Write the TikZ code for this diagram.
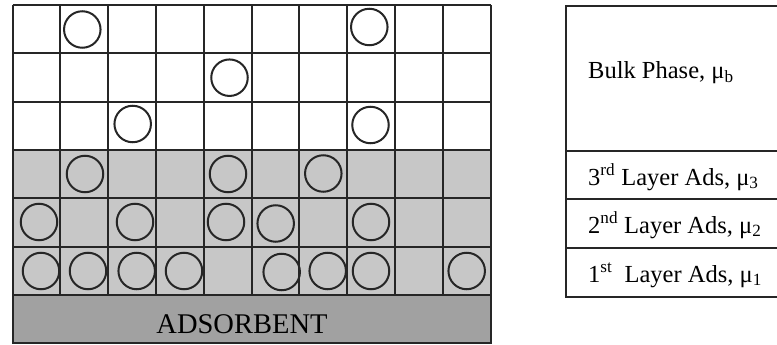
\documentclass[tikz,border=0pt]{standalone}
\usepackage{fontspec}
\setmainfont{Liberation Serif}
\begin{document}
\begin{tikzpicture}[x=1pt,y=-1pt,
  gridline/.style={line width=2pt, draw=black!85},
  molecule/.style={circle, draw=black!85, line width=2pt, minimum size=36.5pt, inner sep=0pt},
  tabtext/.style={anchor=base west, inner sep=0pt, font=\fontsize{24.5}{28}\selectfont},
  adstext/.style={anchor=base, inner sep=0pt, font=\fontsize{28.5}{32}\selectfont}]
\useasboundingbox (0,0) rectangle (777,345);
% shaded adsorbed layers and adsorbent
\fill[black!22] (12.5,150) rectangle (490.5,295);
\fill[black!37] (12.5,295) rectangle (490.5,343);
% grid
\foreach \i in {0,...,10}
  \draw[gridline] ({12.5+47.8*\i},5) -- ({12.5+47.8*\i},295);
\foreach \j in {0,...,6}
  \draw[gridline] (12.5,{5+48.33*\j}) -- (490.5,{5+48.33*\j});
\draw[gridline] (12.5,295) rectangle (490.5,343);
\node[adstext] (ads) at (242,333.3) {ADSORBENT};
% molecules
\node[molecule] (a1) at (82.3,29.5) {};
\node[molecule] (a2) at (369.3,27) {};
\node[molecule] (b1) at (229.5,77.7) {};
\node[molecule] (c1) at (132.7,124) {};
\node[molecule] (c2) at (370.5,125) {};
\node[molecule] (d1) at (85,174) {};
\node[molecule] (d2) at (228,174) {};
\node[molecule] (d3) at (323.3,173.5) {};
\node[molecule] (e1) at (39,222) {};
\node[molecule] (e2) at (135,222) {};
\node[molecule] (e3) at (226,222) {};
\node[molecule] (e4) at (275.7,223.5) {};
\node[molecule] (e5) at (371,222) {};
\node[molecule] (f1) at (41,271) {};
\node[molecule] (f2) at (88,271) {};
\node[molecule] (f3) at (136.7,271) {};
\node[molecule] (f4) at (184,271) {};
\node[molecule] (f5) at (281.7,272) {};
\node[molecule] (f6) at (327.7,271) {};
\node[molecule] (f7) at (371,271) {};
\node[molecule] (f8) at (466.7,271) {};
% table
\draw[gridline] (777,6.5) -- (566,6.5) -- (566,296.7) -- (777,296.7);
\draw[gridline] (566,151) -- (777,151);
\draw[gridline] (566,199) -- (777,199);
\draw[gridline] (566,248) -- (777,248);
\node[tabtext] (bulk) at (588,79) {Bulk Phase, μ\textsubscript{b}};
\node[tabtext] (l3) at (588,185) {3\textsuperscript{rd} Layer Ads, μ\textsubscript{3}};
\node[tabtext] (l2) at (588,233) {2\textsuperscript{nd} Layer Ads, μ\textsubscript{2}};
\node[tabtext] (l1) at (588,282) {1\textsuperscript{st}\ \ Layer Ads, μ\textsubscript{1}};
\end{tikzpicture}
\end{document}
